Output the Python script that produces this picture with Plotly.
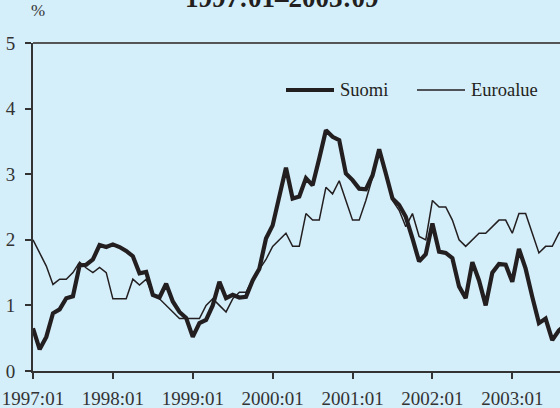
import plotly.graph_objects as go

# Monthly observations 1997:01 - 2003:09 (index 0 = 1997:01)
suomi = [
    0.65, 0.33, 0.52, 0.88, 0.94, 1.11, 1.14, 1.61, 1.62, 1.70, 1.92, 1.89,   # 1997
    1.93, 1.89, 1.83, 1.75, 1.49, 1.51, 1.16, 1.12, 1.33, 1.06, 0.90, 0.81,   # 1998
    0.52, 0.73, 0.78, 1.00, 1.36, 1.11, 1.16, 1.12, 1.13, 1.38, 1.56, 2.02,   # 1999
    2.22, 2.65, 3.10, 2.63, 2.66, 2.94, 2.83, 3.24, 3.67, 3.57, 3.52, 3.01,   # 2000
    2.91, 2.78, 2.77, 2.98, 3.38, 3.01, 2.63, 2.53, 2.35, 2.02, 1.67, 1.78,   # 2001
    2.25, 1.82, 1.80, 1.72, 1.29, 1.11, 1.66, 1.38, 1.00, 1.50, 1.63, 1.62,   # 2002
    1.36, 1.86, 1.56, 1.13, 0.73, 0.80, 0.47, 0.62, 0.70,                     # 2003
]
euroalue = [
    2.00, 1.80, 1.60, 1.32, 1.40, 1.40, 1.50, 1.66, 1.57, 1.50, 1.58, 1.50,   # 1997
    1.10, 1.10, 1.10, 1.40, 1.31, 1.40, 1.15, 1.10, 1.00, 0.90, 0.80, 0.80,   # 1998
    0.80, 0.80, 1.00, 1.10, 1.00, 0.90, 1.10, 1.20, 1.20, 1.40, 1.55, 1.70,   # 1999
    1.90, 2.00, 2.10, 1.90, 1.90, 2.40, 2.30, 2.30, 2.80, 2.70, 2.90, 2.60,   # 2000
    2.30, 2.30, 2.60, 2.95, 3.38, 3.00, 2.60, 2.45, 2.20, 2.40, 2.05, 2.00,   # 2001
    2.60, 2.50, 2.50, 2.30, 2.00, 1.90, 2.00, 2.10, 2.10, 2.20, 2.30, 2.30,   # 2002
    2.10, 2.40, 2.40, 2.10, 1.80, 1.90, 1.90, 2.10, 2.20,                     # 2003
]
months = list(range(len(suomi)))
tick_months = [0, 12, 24, 36, 48, 60, 72]
tick_labels = ["1997:01", "1998:01", "1999:01", "2000:01", "2001:01", "2002:01", "2003:01"]
y_ticks = [0, 1, 2, 3, 4, 5]
series_names = ["Suomi", "Euroalue"]

BG = "#d4eefa"
INK = "#231f20"
FONT = "Liberation Serif, DejaVu Serif, serif"

fig = go.Figure()
fig.add_trace(go.Scatter(x=months, y=euroalue, mode="lines", name=series_names[1],
                         line=dict(color=INK, width=1.5), showlegend=False))
fig.add_trace(go.Scatter(x=months, y=suomi, mode="lines", name=series_names[0],
                         line=dict(color=INK, width=4.2), showlegend=False))

W, H = 560, 408
L, R, T, B = 33, 0, 43, 37
pw = W - L - R
ph = H - T - B

def px_x(px):
    return (px - L) / pw

def px_y(py):
    return (H - B - py) / ph

# legend (drawn manually)
ly = px_y(90)
fig.add_shape(type="line", xref="paper", yref="paper", x0=px_x(286), x1=px_x(334), y0=ly, y1=ly,
              line=dict(color=INK, width=4.2))
fig.add_shape(type="line", xref="paper", yref="paper", x0=px_x(417), x1=px_x(465), y0=ly, y1=ly,
              line=dict(color=INK, width=1.5))
fig.add_annotation(text=series_names[0], xref="paper", yref="paper", x=px_x(338), y=ly,
                   xanchor="left", yanchor="middle", showarrow=False,
                   font=dict(family=FONT, size=18.5, color=INK))
fig.add_annotation(text=series_names[1], xref="paper", yref="paper", x=px_x(469), y=ly,
                   xanchor="left", yanchor="middle", showarrow=False,
                   font=dict(family=FONT, size=18.5, color=INK))

# top frame line
fig.add_shape(type="line", xref="paper", yref="paper", x0=0, x1=1, y0=1, y1=1,
              line=dict(color="#555555", width=2))

# unit label and (cut-off) title
fig.add_annotation(text="%", xref="paper", yref="paper", x=px_x(38), y=px_y(11),
                   xanchor="center", yanchor="middle", showarrow=False,
                   font=dict(family=FONT, size=17, color="#333333"))
fig.add_annotation(text="<b>1997:01–2003:09</b>", xref="paper", yref="paper", x=px_x(281), y=px_y(15),
                   xanchor="center", yanchor="bottom", showarrow=False,
                   font=dict(family=FONT, size=27, color=INK))

axis_common = dict(showgrid=False, zeroline=False, showline=True, linecolor="#333333", linewidth=2,
                   ticks="outside", ticklen=6, tickwidth=1.5, tickcolor="#333333",
                   automargin=False,
                   tickfont=dict(family=FONT, size=19, color="#333333"))

fig.update_layout(
    width=W, height=H,
    margin=dict(l=L, r=R, t=T, b=B, autoexpand=False),
    paper_bgcolor=BG, plot_bgcolor=BG,
    showlegend=False,
    xaxis=dict(range=[0, 527 / 6.657], tickmode="array", tickvals=tick_months, ticktext=tick_labels,
               ticklabelstandoff=3, **axis_common),
    yaxis=dict(range=[0, 5], tickmode="array", tickvals=y_ticks,
               ticklabelstandoff=6, **axis_common),
)

fig.write_html("out.html", config={"displayModeBar": False},
               post_script="document.body.style.margin='0';document.body.style.padding='0';"
                           "document.body.style.background='" + BG + "';")
